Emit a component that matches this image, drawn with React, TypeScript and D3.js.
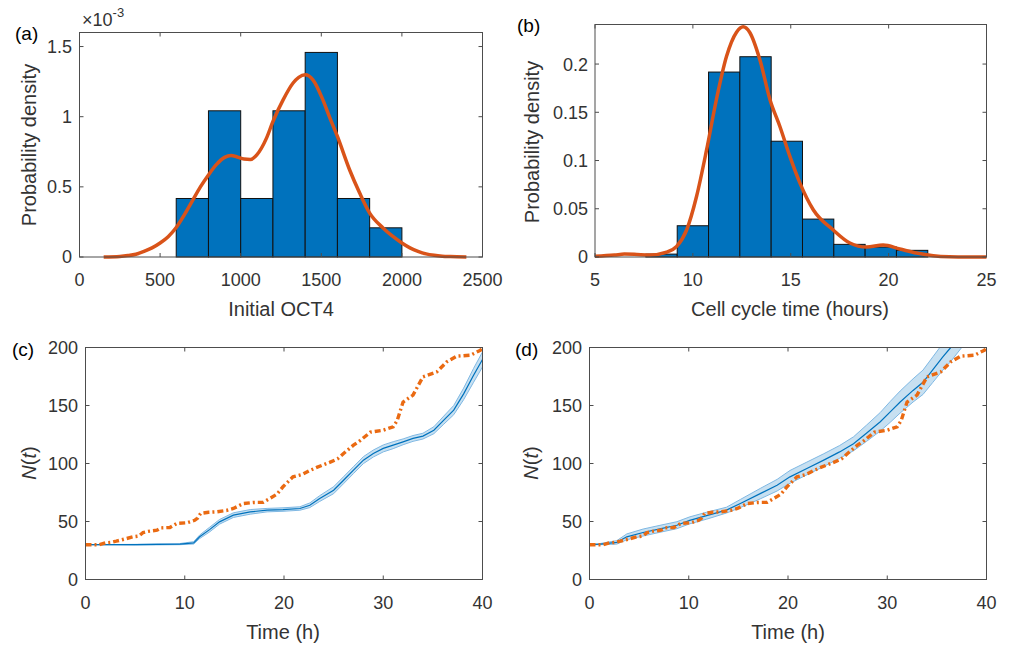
import * as d3 from "d3";

// ---- data ----
// (a) initial OCT4 histogram (density, x1e-3) and kernel fit
const octEdges = [600, 800, 1000, 1200, 1400, 1600, 1800, 2000];
const octDensity = [0.417, 1.042, 0.417, 1.042, 1.458, 0.417, 0.208];
const octKdeX = [150, 250, 300, 350, 400, 450, 500, 550, 600, 650, 700, 750, 800, 850, 900, 940, 980, 1020, 1060, 1100, 1160, 1200, 1263, 1325, 1360, 1400, 1448, 1510, 1550, 1600, 1676, 1738, 1800, 1883, 1940, 2000, 2050, 2100, 2150, 2200, 2250, 2300, 2400];
const octKdeY = [0, 0.004, 0.01, 0.02, 0.04, 0.065, 0.1, 0.145, 0.21, 0.3, 0.4, 0.5, 0.585, 0.66, 0.71, 0.724, 0.712, 0.698, 0.695, 0.728, 0.847, 0.966, 1.12, 1.24, 1.28, 1.298, 1.263, 1.12, 1.0, 0.859, 0.62, 0.456, 0.313, 0.207, 0.15, 0.1, 0.065, 0.04, 0.022, 0.012, 0.006, 0.003, 0];

// (b) cell cycle time histogram and kernel fit
const cycEdges = [7.6, 9.2, 10.8, 12.4, 14.0, 15.6, 17.2, 18.8, 20.4, 22.0];
const cycDensity = [0.003, 0.0324, 0.1917, 0.2076, 0.12, 0.0393, 0.0131, 0.0103, 0.0069];
const cycKdeX = [5, 6, 6.5, 7, 7.8, 8.66, 9.17, 9.68, 10.19, 10.7, 11.2, 11.72, 12.23, 12.57, 12.9, 13.43, 13.94, 14.45, 14.96, 15.47, 16.15, 17.17, 18.02, 18.87, 19.72, 20.57, 21.43, 22.28, 23.1, 24, 25];
const cycKdeY = [0.0007, 0.002, 0.003, 0.0028, 0.002, 0.005, 0.011, 0.028, 0.063, 0.111, 0.163, 0.208, 0.233, 0.2386, 0.233, 0.204, 0.163, 0.135, 0.104, 0.0766, 0.049, 0.028, 0.0145, 0.0103, 0.0124, 0.0083, 0.0041, 0.0014, 0.0003, 0, 0];

// observed cell counts (same in c and d)
const obsT = [0, 1.4, 2, 2.6, 3.1, 4, 4.8, 5.4, 5.8, 6.3, 7.2, 7.6, 8.5, 9.2, 10.2, 11, 11.3, 11.6, 12.4, 13.2, 14.2, 14.9, 15.9, 16.9, 17.9, 18.6, 19.3, 19.9, 20.9, 21.9, 22.6, 23.3, 24.6, 25.4, 26, 27, 27.7, 28.7, 30, 31, 31.4, 32, 33, 34, 35.4, 36.4, 37.4, 38.8, 39.8, 40];
const obsN = [30, 30, 31.5, 32, 33, 35, 36.8, 37.5, 40.5, 41.5, 42.5, 44.5, 44.8, 48.3, 48.9, 51, 53, 57, 58, 58.3, 59.5, 61.2, 65.5, 66.4, 66.5, 70, 73.6, 80, 88.5, 90.8, 94, 96.6, 101, 104, 108.6, 115.8, 120, 127, 128.7, 131.6, 137, 153, 159, 174.7, 179, 187.6, 192.5, 193.4, 197.7, 200];

// (c) model mean and band half-width
const modCT = [0, 5, 9.5, 10.9, 11.5, 12.5, 13.5, 14.9, 16.6, 18.3, 19.9, 21.6, 22.6, 23.6, 25, 26, 27, 28, 29, 30, 31, 32, 33, 34, 35.1, 36.1, 37.1, 38.1, 39.1, 40];
const modCN = [30, 30, 30.5, 31.6, 36.8, 43, 49.7, 55.5, 58.3, 59.8, 60.3, 61.2, 64, 69.8, 77, 85.6, 94.3, 102.9, 108.6, 113, 115.8, 118.7, 121.6, 123.6, 128.7, 137.4, 146, 160, 176, 189.7];
const modCW = [0, 0.3, 0.5, 1, 1.5, 2, 2, 2, 2, 1.5, 1.5, 1.5, 2, 2.5, 3, 3, 3, 3, 3, 3, 3, 2.5, 2.5, 2.5, 3, 3.5, 4, 5, 6, 6.5];

// (d) model mean and band half-width
const modDT = [0, 1.07, 2.75, 3.76, 5.4, 7.1, 8.8, 10.1, 11.8, 13.8, 15.2, 17.2, 18.9, 20.2, 21.9, 23.6, 25.2, 26.6, 27.9, 29.3, 30.3, 31.3, 32.6, 33.6, 34.6, 35.6, 36.4, 37.5];
const modDN = [30, 30.5, 32, 36.8, 40.5, 43.7, 46.8, 51, 55, 59.8, 65.5, 74, 81.3, 88.5, 95.7, 102.9, 110, 117, 126, 136, 144.5, 153, 163, 170, 181, 192, 200, 212];
const modDW = [0, 0.5, 1.5, 2.5, 3, 3, 3, 3, 3, 2.5, 3.5, 4.5, 5, 5.5, 5.5, 5.5, 5.5, 6, 7, 8, 9, 9.5, 10, 10.5, 11, 11.5, 12, 12];

const octTicksX = [0, 500, 1000, 1500, 2000, 2500];
const octTicksY = [0, 0.5, 1, 1.5];
const cycTicksX = [5, 10, 15, 20, 25];
const cycTicksY = [0, 0.05, 0.1, 0.15, 0.2];
const timeTicks = [0, 10, 20, 30, 40];
const countTicks = [0, 50, 100, 150, 200];

const FONT = "'Liberation Sans', Arial, sans-serif";
const TXT = "#333";
const BLUE = "#0072BD";
const RED = "#D95319";
const ORANGE = "#EA6A12";

type Box = { l: number; r: number; t: number; b: number };

function Frame({ box, x, y, xt, yt, yLabRight }: any) {
  const tl = 4;
  return (
    <g>
      <rect x={box.l} y={box.t} width={box.r - box.l} height={box.b - box.t} fill="none" stroke="#4d4d4d" strokeWidth={1} />
      {xt.map((v: number) => (
        <g key={"x" + v}>
          <line x1={x(v)} x2={x(v)} y1={box.b} y2={box.b - tl} stroke="#4d4d4d" />
          <line x1={x(v)} x2={x(v)} y1={box.t} y2={box.t + tl} stroke="#4d4d4d" />
          <text x={x(v)} y={box.b + 29} textAnchor="middle" fontSize={18} fill={TXT}>
            {v}
          </text>
        </g>
      ))}
      {yt.map((v: number) => (
        <g key={"y" + v}>
          <line x1={box.l} x2={box.l + tl} y1={y(v)} y2={y(v)} stroke="#4d4d4d" />
          <line x1={box.r} x2={box.r - tl} y1={y(v)} y2={y(v)} stroke="#4d4d4d" />
          <text x={yLabRight} y={y(v)} dy="0.36em" textAnchor="end" fontSize={18} fill={TXT}>
            {v}
          </text>
        </g>
      ))}
    </g>
  );
}

function Hist({ x, y, edges, dens, kx, ky }: any) {
  const kde = d3
    .line<number>()
    .x((d, i) => x(kx[i]))
    .y((d) => y(d))
    .curve(d3.curveMonotoneX)(ky);
  return (
    <g>
      {dens.map((d: number, i: number) => (
        <rect
          key={i}
          x={x(edges[i])}
          y={y(d)}
          width={x(edges[i + 1]) - x(edges[i])}
          height={y(0) - y(d)}
          fill={BLUE}
          stroke="#111"
          strokeWidth={1}
        />
      ))}
      <path d={kde || ""} fill="none" stroke={RED} strokeWidth={3.5} />
    </g>
  );
}

function Growth({ box, x, y, mt, mn, mw, id }: any) {
  const area = d3
    .area<number>()
    .x((d, i) => x(mt[i]))
    .y0((d, i) => y(d - mw[i]))
    .y1((d, i) => y(d + mw[i]))(mn);
  const upper = d3.line<number>().x((d, i) => x(mt[i])).y((d, i) => y(d + mw[i]))(mn);
  const lower = d3.line<number>().x((d, i) => x(mt[i])).y((d, i) => y(d - mw[i]))(mn);
  const mean = d3.line<number>().x((d, i) => x(mt[i])).y((d) => y(d))(mn);
  const obs = d3.line<number>().x((d, i) => x(obsT[i])).y((d) => y(d))(obsN);
  return (
    <g>
      <defs>
        <clipPath id={id}>
          <rect x={box.l} y={box.t} width={box.r - box.l} height={box.b - box.t} />
        </clipPath>
      </defs>
      <g clipPath={`url(#${id})`}>
        <path d={area || ""} fill={BLUE} fillOpacity={0.22} stroke="none" />
        <path d={upper || ""} fill="none" stroke="#7fb8e3" strokeWidth={1} />
        <path d={lower || ""} fill="none" stroke="#7fb8e3" strokeWidth={1} />
        <path d={mean || ""} fill="none" stroke={BLUE} strokeWidth={1.2} />
        <path d={obs || ""} fill="none" stroke={ORANGE} strokeWidth={3.4} strokeDasharray="6,3,2,3" />
      </g>
    </g>
  );
}

export default function App() {
  const boxA: Box = { l: 79.5, r: 482.5, t: 32.5, b: 257 };
  const boxB: Box = { l: 595, r: 986.5, t: 24.5, b: 257 };
  const boxC: Box = { l: 85.5, r: 482.5, t: 347.5, b: 579.5 };
  const boxD: Box = { l: 589.5, r: 986.5, t: 347.5, b: 579.5 };

  const xA = d3.scaleLinear().domain([0, 2500]).range([boxA.l, boxA.r]);
  const yA = d3.scaleLinear().domain([0, 1.6]).range([boxA.b, boxA.t]);
  const xB = d3.scaleLinear().domain([5, 25]).range([boxB.l, boxB.r]);
  const yB = d3.scaleLinear().domain([0, 0.241]).range([boxB.b, boxB.t]);
  const xC = d3.scaleLinear().domain([0, 40]).range([boxC.l, boxC.r]);
  const yC = d3.scaleLinear().domain([0, 200]).range([boxC.b, boxC.t]);
  const xD = d3.scaleLinear().domain([0, 40]).range([boxD.l, boxD.r]);
  const yD = d3.scaleLinear().domain([0, 200]).range([boxD.b, boxD.t]);

  return (
    <svg
      width={1019}
      height={648}
      style={{ position: "absolute", left: 0, top: 0, background: "#fff" }}
      fontFamily={FONT}
    >
      <rect width={1019} height={648} fill="#fff" />

      {/* (a) */}
      <Hist x={xA} y={yA} edges={octEdges} dens={octDensity} kx={octKdeX} ky={octKdeY} />
      <Frame box={boxA} x={xA} y={yA} xt={octTicksX} yt={octTicksY} yLabRight={72} />
      <text x={82} y={26} fontSize={18} fill={TXT}>
        ×10<tspan dy={-9} fontSize={13}>-3</tspan>
      </text>
      <text x={281} y={316} textAnchor="middle" fontSize={20} fill={TXT}>Initial OCT4</text>
      <text transform="translate(36,145) rotate(-90)" textAnchor="middle" fontSize={20} fill={TXT}>Probability density</text>
      <text x={15} y={40} fontSize={19} fill="#000">(a)</text>

      {/* (b) */}
      <Hist x={xB} y={yB} edges={cycEdges} dens={cycDensity} kx={cycKdeX} ky={cycKdeY} />
      <Frame box={boxB} x={xB} y={yB} xt={cycTicksX} yt={cycTicksY} yLabRight={588} />
      <text x={790} y={316} textAnchor="middle" fontSize={20} fill={TXT}>Cell cycle time (hours)</text>
      <text transform="translate(539,142) rotate(-90)" textAnchor="middle" fontSize={20} fill={TXT}>Probability density</text>
      <text x={517} y={32} fontSize={19} fill="#000">(b)</text>

      {/* (c) */}
      <Growth box={boxC} x={xC} y={yC} mt={modCT} mn={modCN} mw={modCW} id="clipC" />
      <Frame box={boxC} x={xC} y={yC} xt={timeTicks} yt={countTicks} yLabRight={78} />
      <text x={283} y={639} textAnchor="middle" fontSize={20} fill={TXT}>Time (h)</text>
      <text transform="translate(36,463) rotate(-90)" textAnchor="middle" fontSize={20} fill={TXT}>
        <tspan fontStyle="italic">N</tspan>(<tspan fontStyle="italic">t</tspan>)
      </text>
      <text x={12} y={356} fontSize={19} fill="#000">(c)</text>

      {/* (d) */}
      <Growth box={boxD} x={xD} y={yD} mt={modDT} mn={modDN} mw={modDW} id="clipD" />
      <Frame box={boxD} x={xD} y={yD} xt={timeTicks} yt={countTicks} yLabRight={582} />
      <text x={788} y={639} textAnchor="middle" fontSize={20} fill={TXT}>Time (h)</text>
      <text transform="translate(538,463) rotate(-90)" textAnchor="middle" fontSize={20} fill={TXT}>
        <tspan fontStyle="italic">N</tspan>(<tspan fontStyle="italic">t</tspan>)
      </text>
      <text x={515} y={356} fontSize={19} fill="#000">(d)</text>
    </svg>
  );
}
